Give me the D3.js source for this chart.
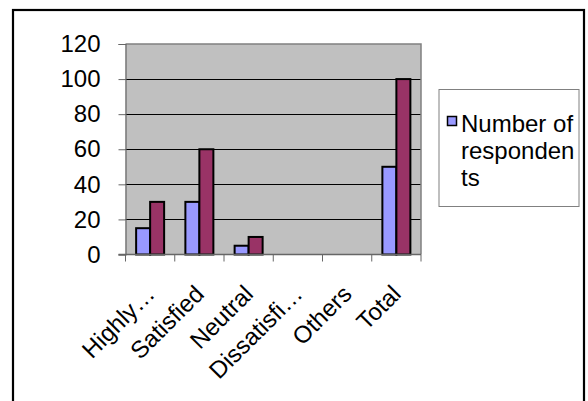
<!DOCTYPE html>
<html>
<head>
<meta charset="utf-8">
<script src="https://cdn.jsdelivr.net/npm/d3@7"></script>
<style>
  html, body { margin: 0; padding: 0; background: #fff; }
  svg { display: block; }
  text { font-family: "Liberation Sans", Arial, sans-serif; fill: #000; }
</style>
</head>
<body>
<svg id="chart" width="588" height="401"></svg>
<script>
// Survey responses per satisfaction level
const categories = ["Highly…", "Satisfied", "Neutral", "Dissatisfi…", "Others", "Total"];
const respondents = [15, 30, 5, 0, 0, 50];
const percentage = [30, 60, 10, 0, 0, 100];
const yTicks = [0, 20, 40, 60, 80, 100, 120];
const legendLines = ["Number of", "responden", "ts"];

const seriesNames = ["respondents", "percentage"];
const seriesColors = { respondents: "#9999FF", percentage: "#993366" };
const rows = categories.map((c, i) => ({ cat: c, respondents: respondents[i], percentage: percentage[i] }));

const svg = d3.select("#chart");

// outer frame
svg.append("rect")
  .attr("x", 13).attr("y", 10)
  .attr("width", 571).attr("height", 420)
  .attr("fill", "none").attr("stroke", "#000").attr("stroke-width", 2.2);

const plot = { left: 125.5, top: 44, right: 421, bottom: 254.5 };

const x = d3.scaleBand().domain(categories).range([plot.left, plot.right]).padding(0);
const y = d3.scaleLinear().domain([0, 120]).range([plot.bottom, plot.top]);
const barW = 14;
const xs = d3.scaleBand().domain(seriesNames)
  .range([-barW, barW]).padding(0);

// plot background
svg.append("rect")
  .attr("x", plot.left).attr("y", plot.top)
  .attr("width", plot.right - plot.left).attr("height", plot.bottom - plot.top)
  .attr("fill", "#C0C0C0");

// gridlines
svg.append("g").selectAll("line")
  .data(yTicks.filter(t => t > 0 && t < 120))
  .join("line")
  .attr("x1", plot.left).attr("x2", plot.right)
  .attr("y1", d => Math.round(y(d)) + 0.5).attr("y2", d => Math.round(y(d)) + 0.5)
  .attr("stroke", "#000").attr("stroke-width", 1);

// plot border top/right
svg.append("path")
  .attr("d", `M${plot.left},${plot.top}H${plot.right}V${plot.bottom}`)
  .attr("fill", "none").attr("stroke", "#808080").attr("stroke-width", 1.5);

// bars
const groups = svg.append("g").selectAll("g")
  .data(rows).join("g")
  .attr("transform", d => `translate(${x(d.cat) + x.bandwidth() / 2},0)`);

groups.selectAll("rect")
  .data(d => seriesNames.map(k => ({ key: k, value: d[k] })).filter(v => v.value > 0))
  .join("rect")
  .attr("x", d => xs(d.key))
  .attr("y", d => y(d.value))
  .attr("width", xs.bandwidth())
  .attr("height", d => y(0) - y(d.value))
  .attr("fill", d => seriesColors[d.key])
  .attr("stroke", "#000").attr("stroke-width", 2);

// y axis
const yAxis = d3.axisLeft(y).tickValues(yTicks).tickSize(7).tickPadding(18);
const gy = svg.append("g").attr("transform", `translate(${plot.left},0)`).call(yAxis);
gy.select(".domain").attr("stroke", "#666").attr("stroke-width", 1.2);
gy.selectAll(".tick line").attr("stroke", "#666");
gy.selectAll(".tick text")
  .style("font-family", "'Liberation Sans', Arial, sans-serif")
  .style("font-size", "24px").attr("fill", "#000");

// x axis
const edges = categories.map(c => x(c)).concat([plot.right]);
const gx = svg.append("g");
gx.append("line")
  .attr("x1", plot.left - 7).attr("x2", plot.right)
  .attr("y1", plot.bottom).attr("y2", plot.bottom)
  .attr("stroke", "#666").attr("stroke-width", 1.5);
gx.selectAll("line.tk").data(edges).join("line")
  .attr("class", "tk")
  .attr("x1", d => d).attr("x2", d => d)
  .attr("y1", plot.bottom).attr("y2", plot.bottom + 7)
  .attr("stroke", "#666");
gx.selectAll("text").data(categories).join("text")
  .attr("transform", c => `translate(${x(c) + x.bandwidth() / 2 + 6},${plot.bottom + 41}) rotate(-45)`)
  .attr("text-anchor", "end")
  .style("font-size", "24px")
  .text(c => c);

// legend
const lg = svg.append("g");
lg.append("rect")
  .attr("x", 439).attr("y", 89.5)
  .attr("width", 140).attr("height", 117)
  .attr("fill", "#fff").attr("stroke", "#808080").attr("stroke-width", 1);
lg.append("rect")
  .attr("x", 447.5).attr("y", 116.5)
  .attr("width", 9).attr("height", 9)
  .attr("fill", seriesColors.respondents).attr("stroke", "#000").attr("stroke-width", 1.5);
lg.selectAll("text").data(legendLines).join("text")
  .attr("x", 461)
  .attr("y", (d, i) => 131.5 + i * 27)
  .style("font-size", "24px")
  .text(d => d);
</script>
</body>
</html>
